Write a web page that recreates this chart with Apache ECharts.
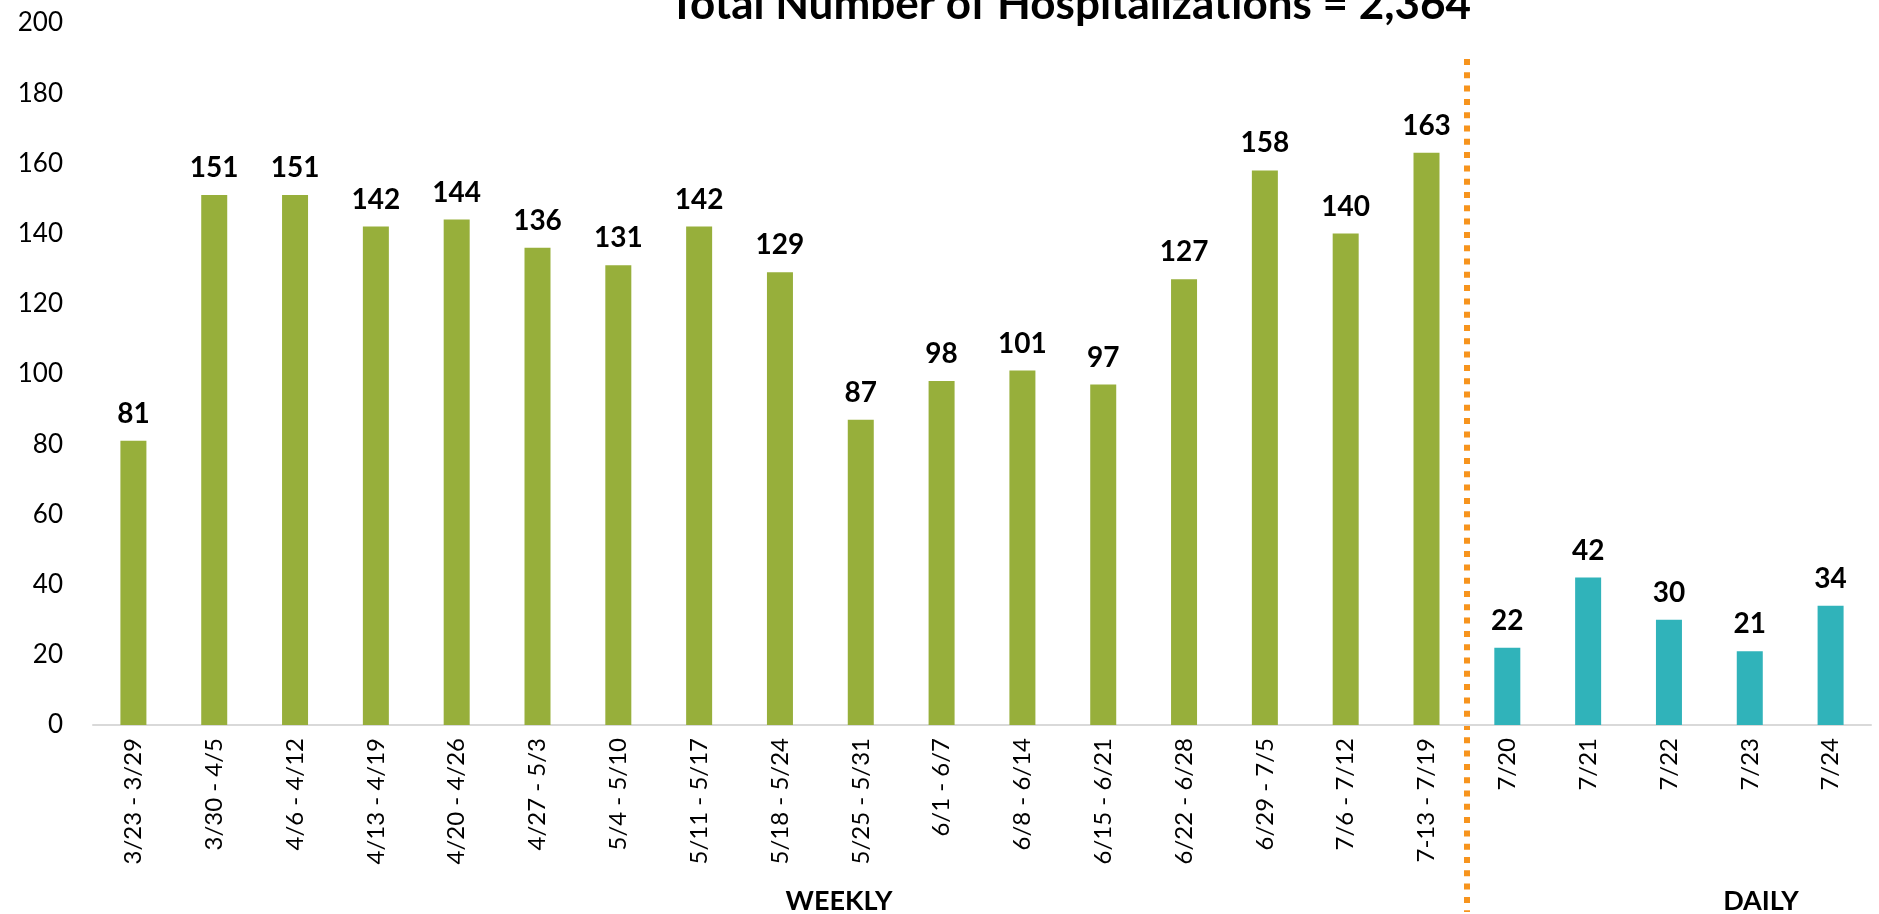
<!DOCTYPE html>
<html>
<head>
<meta charset="utf-8">
<script src="https://cdn.jsdelivr.net/npm/echarts@6/dist/echarts.min.js"></script>
<style>
    html, body {
        margin: 0;
        padding: 0;
        background: #ffffff;
    }

    #chart {
        width: 1879px;
        height: 914px;
    }
</style>
</head>
<body>
<div id="chart"></div>
<script>
// weekly periods, then daily days
const weeklyLabels = ['3/23 - 3/29', '3/30 - 4/5', '4/6 - 4/12', '4/13 - 4/19', '4/20 - 4/26', '4/27 - 5/3',
    '5/4 - 5/10', '5/11 - 5/17', '5/18 - 5/24', '5/25 - 5/31', '6/1 - 6/7', '6/8 - 6/14', '6/15 - 6/21',
    '6/22 - 6/28', '6/29 - 7/5', '7/6 - 7/12', '7-13 - 7/19'];
const dailyLabels = ['7/20', '7/21', '7/22', '7/23', '7/24'];
const weeklyValues = [81, 151, 151, 142, 144, 136, 131, 142, 129, 87, 98, 101, 97, 127, 158, 140, 163];
const dailyValues = [22, 42, 30, 21, 34];
const yTicks = { min: 0, max: 200, interval: 20 };

const categories = weeklyLabels.concat(dailyLabels);
const weeklyData = weeklyValues.concat(dailyLabels.map(() => null));
const dailyData = weeklyLabels.map(() => null).concat(dailyValues);

const FONT = 'Lato, "Open Sans", sans-serif';

const chart = echarts.init(document.getElementById('chart'));

const barLabel = {
    show: true,
    position: 'top',
    distance: 13,
    color: '#000',
    fontFamily: FONT,
    fontWeight: 'bold',
    fontSize: 28
};

chart.setOption({
    animation: false,
    title: {
        text: 'Total Number of Hospitalizations = 2,364',
        left: 1065,
        top: -22,
        textAlign: 'center',
        textStyle: {
            fontFamily: FONT,
            fontWeight: 'bold',
            fontSize: 44,
            color: '#000'
        }
    },
    grid: {
        left: 93,
        right: 8,
        top: 23,
        bottom: 189
    },
    xAxis: {
        type: 'category',
        data: categories,
        axisTick: { show: false },
        axisLine: {
            lineStyle: { color: '#d9d9d9', width: 2 }
        },
        axisLabel: {
            interval: 0,
            rotate: 90,
            margin: 13,
            color: '#000',
            fontFamily: FONT,
            fontSize: 24
        }
    },
    yAxis: {
        type: 'value',
        min: yTicks.min,
        max: yTicks.max,
        interval: yTicks.interval,
        splitLine: { show: false },
        axisLine: { show: false },
        axisLabel: {
            margin: 30,
            color: '#000',
            fontFamily: FONT,
            fontSize: 26
        }
    },
    series: [
        {
            name: 'Weekly',
            type: 'bar',
            data: weeklyData,
            barWidth: 26,
            barGap: '-100%',
            itemStyle: { color: '#97AF3B' },
            label: barLabel
        },
        {
            name: 'Daily',
            type: 'bar',
            data: dailyData,
            barWidth: 26,
            barGap: '-100%',
            itemStyle: { color: '#30B3BA' },
            label: barLabel
        }
    ]
});

// divider between the weekly and daily groups, plus group captions
const lastWeek = chart.convertToPixel({ xAxisIndex: 0 }, weeklyLabels.length - 1);
const firstDay = chart.convertToPixel({ xAxisIndex: 0 }, weeklyLabels.length);
const dividerX = Math.round((lastWeek + firstDay) / 2);

chart.setOption({
    graphic: [
        {
            type: 'line',
            shape: { x1: dividerX, y1: 59, x2: dividerX, y2: 912 },
            style: {
                stroke: '#F7941D',
                lineWidth: 6,
                lineDash: [6, 7.3]
            }
        },
        {
            type: 'text',
            x: 839,
            y: 901,
            style: {
                text: 'WEEKLY',
                fill: '#000',
                font: 'bold 27px ' + FONT,
                align: 'center',
                verticalAlign: 'middle'
            }
        },
        {
            type: 'text',
            x: 1761,
            y: 901,
            style: {
                text: 'DAILY',
                fill: '#000',
                font: 'bold 27px ' + FONT,
                align: 'center',
                verticalAlign: 'middle'
            }
        }
    ]
});
</script>
</body>
</html>
